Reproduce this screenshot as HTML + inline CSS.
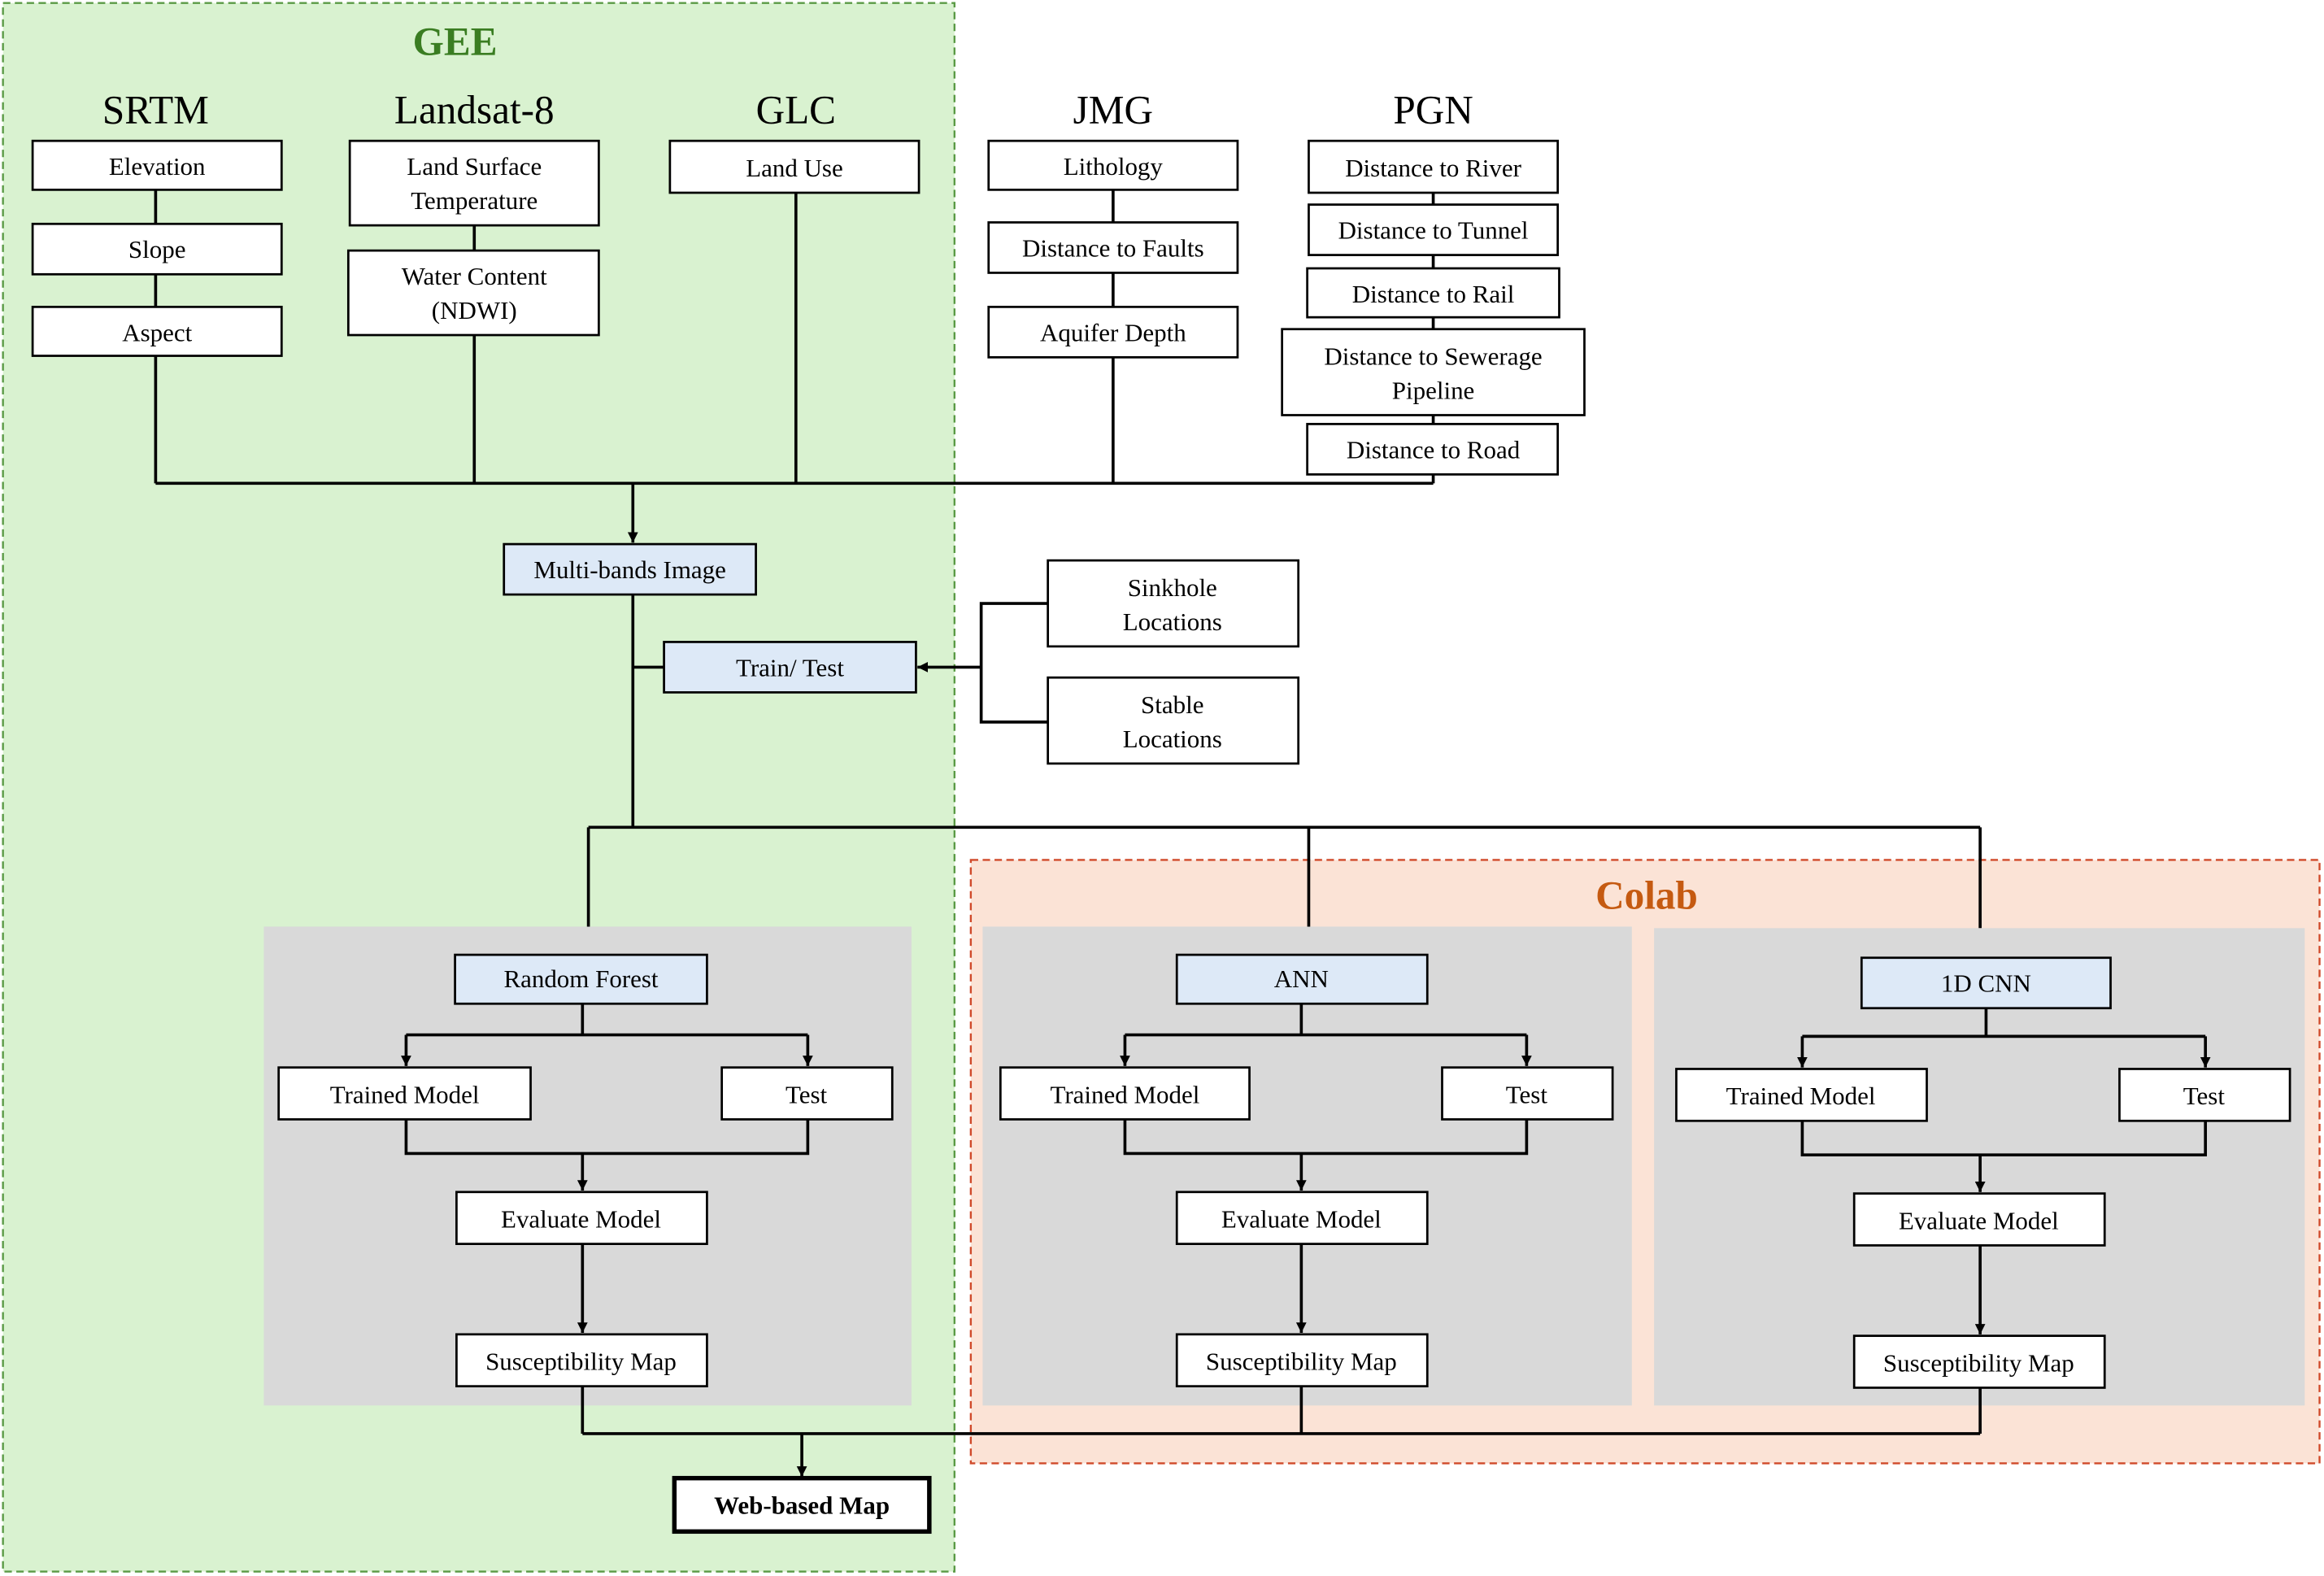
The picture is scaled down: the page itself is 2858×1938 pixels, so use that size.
<!DOCTYPE html>
<html><head><meta charset="utf-8"><style>html,body{margin:0;padding:0;background:#fff}svg{display:block}</style></head>
<body>
<svg width="2858" height="1938" viewBox="0 0 1568 1063" preserveAspectRatio="none" xmlns="http://www.w3.org/2000/svg" font-family="Liberation Serif, serif">
<defs><marker id="a" viewBox="0 0 10 10" refX="10" refY="5" markerWidth="7" markerHeight="7" orient="auto" markerUnits="userSpaceOnUse"><path d="M0,0L10,5L0,10z" fill="#000"/></marker></defs>
<rect x="2" y="2" width="642" height="1058" fill="#d9f2d0" stroke="#5a9a45" stroke-width="1.3" stroke-dasharray="5,3"/>
<rect x="655" y="580" width="910" height="407" fill="#fbe3d6" stroke="#d04a2a" stroke-width="1.3" stroke-dasharray="5,3"/>
<rect x="178" y="625" width="437" height="323" fill="#d9d9d9"/>
<rect x="663" y="625" width="438" height="323" fill="#d9d9d9"/>
<rect x="1116" y="626" width="439" height="322" fill="#d9d9d9"/>
<g text-anchor="middle">
<text x="307" y="37" font-size="27" font-weight="bold" fill="#3a7d22">GEE</text>
<text x="1111" y="613" font-size="27" font-weight="bold" fill="#c55a11">Colab</text>
<g font-size="27" fill="#000"><text x="105" y="83">SRTM</text><text x="320" y="83">Landsat-8</text><text x="537" y="83">GLC</text><text x="751" y="83">JMG</text><text x="967" y="83">PGN</text></g>
</g>
<g stroke="#000" stroke-width="2" fill="none">
<path d="M105,128V151M105,185V207M320,152V169M751,128V150M751,184V207M967,130V138M967,172V181M967,214V222M967,280V286"/>
<path d="M105,240V326M320,226V326M537,130V326M751,241V326M967,320V326M105,326H967"/>
<path d="M427,326V366" marker-end="url(#a)"/>
<path d="M427,401V558M427,450H448M397,558H1336M397,558V625M883,558V625M1336,558V626"/>
<path d="M662,450H619" marker-end="url(#a)"/>
<path d="M707,407H662V487H707"/>
<path d="M393,677V698M274,698H545M878,677V698M759,698H1030M1340,680V699M1216,699H1488"/>
<path d="M274,698V719" marker-end="url(#a)"/>
<path d="M545,698V719" marker-end="url(#a)"/>
<path d="M759,698V719" marker-end="url(#a)"/>
<path d="M1030,698V719" marker-end="url(#a)"/>
<path d="M1216,699V720" marker-end="url(#a)"/>
<path d="M1488,699V720" marker-end="url(#a)"/>
<path d="M274,755V778H545V755M759,755V778H1030V755M1216,756V779H1488V756"/>
<path d="M393,778V803" marker-end="url(#a)"/>
<path d="M878,778V803" marker-end="url(#a)"/>
<path d="M1336,779V804" marker-end="url(#a)"/>
<path d="M393,839V899" marker-end="url(#a)"/>
<path d="M878,839V899" marker-end="url(#a)"/>
<path d="M1336,840V900" marker-end="url(#a)"/>
<path d="M393,935V967M878,935V967M1336,936V967M393,967H1336"/>
<path d="M541,967V996" marker-end="url(#a)"/>
</g>
<g stroke="#000" stroke-width="1.5" font-size="17" text-anchor="middle">
<g fill="#fff">
<rect x="22" y="95" width="168" height="33"/><rect x="22" y="151" width="168" height="34"/><rect x="22" y="207" width="168" height="33"/>
<rect x="236" y="95" width="168" height="57"/><rect x="235" y="169" width="169" height="57"/>
<rect x="452" y="95" width="168" height="35"/>
<rect x="667" y="95" width="168" height="33"/><rect x="667" y="150" width="168" height="34"/><rect x="667" y="207" width="168" height="34"/>
<rect x="883" y="95" width="168" height="35"/><rect x="883" y="138" width="168" height="34"/><rect x="882" y="181" width="170" height="33"/><rect x="865" y="222" width="204" height="58"/><rect x="882" y="286" width="169" height="34"/>
<rect x="707" y="378" width="169" height="58"/><rect x="707" y="457" width="169" height="58"/>
<rect x="188" y="720" width="170" height="35"/><rect x="487" y="720" width="115" height="35"/><rect x="308" y="804" width="169" height="35"/><rect x="308" y="900" width="169" height="35"/>
<rect x="675" y="720" width="168" height="35"/><rect x="973" y="720" width="115" height="35"/><rect x="794" y="804" width="169" height="35"/><rect x="794" y="900" width="169" height="35"/>
<rect x="1131" y="721" width="169" height="35"/><rect x="1430" y="721" width="115" height="35"/><rect x="1251" y="805" width="169" height="35"/><rect x="1251" y="901" width="169" height="35"/>
<rect x="455" y="997" width="172" height="36" stroke-width="3"/>
</g>
<g fill="#dde9f7">
<rect x="340" y="367" width="170" height="34"/><rect x="448" y="433" width="170" height="34"/>
<rect x="307" y="644" width="170" height="33"/><rect x="794" y="644" width="169" height="33"/><rect x="1256" y="646" width="168" height="34"/>
</g>
<g stroke="none" fill="#000">
<text x="106" y="118">Elevation</text><text x="106" y="174">Slope</text><text x="106" y="230">Aspect</text>
<text x="320" y="118">Land Surface</text><text x="320" y="141">Temperature</text>
<text x="320" y="192">Water Content</text><text x="320" y="215">(NDWI)</text>
<text x="536" y="119">Land Use</text>
<text x="751" y="118">Lithology</text><text x="751" y="173">Distance to Faults</text><text x="751" y="230">Aquifer Depth</text>
<text x="967" y="119">Distance to River</text><text x="967" y="161">Distance to Tunnel</text><text x="967" y="204">Distance to Rail</text>
<text x="967" y="246">Distance to Sewerage</text><text x="967" y="269">Pipeline</text><text x="967" y="309">Distance to Road</text>
<text x="425" y="390">Multi-bands Image</text><text x="533" y="456">Train/ Test</text>
<text x="791" y="402">Sinkhole</text><text x="791" y="425">Locations</text><text x="791" y="481">Stable</text><text x="791" y="504">Locations</text>
<text x="392" y="666">Random Forest</text><text x="878" y="666">ANN</text><text x="1340" y="669">1D CNN</text>
<text x="273" y="744">Trained Model</text><text x="544" y="744">Test</text><text x="392" y="828">Evaluate Model</text><text x="392" y="924">Susceptibility Map</text>
<text x="759" y="744">Trained Model</text><text x="1030" y="744">Test</text><text x="878" y="828">Evaluate Model</text><text x="878" y="924">Susceptibility Map</text>
<text x="1215" y="745">Trained Model</text><text x="1487" y="745">Test</text><text x="1335" y="829">Evaluate Model</text><text x="1335" y="925">Susceptibility Map</text>
<text x="541" y="1021" font-weight="bold">Web-based Map</text>
</g>
</g>
</svg>
</body></html>
